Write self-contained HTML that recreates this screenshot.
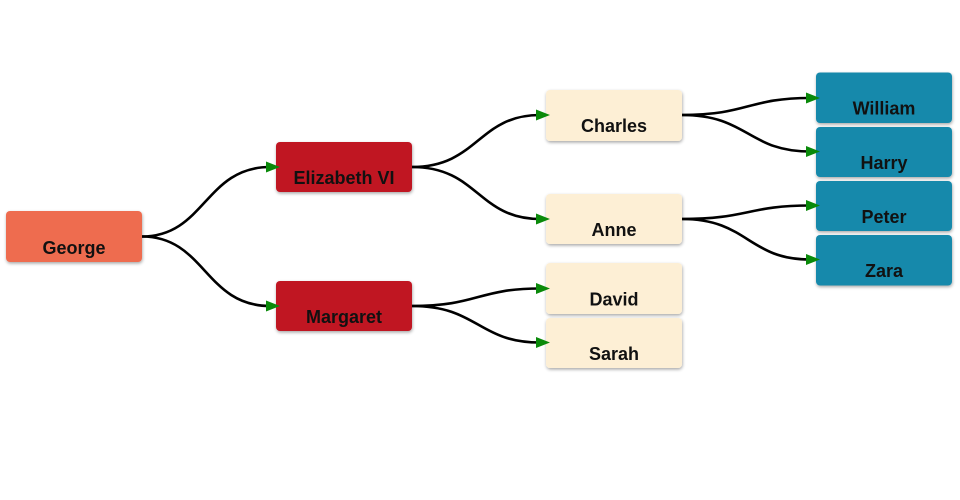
<!DOCTYPE html>
<html><head><meta charset="utf-8"><style>
html,body{margin:0;padding:0;background:#fff;width:960px;height:500px;overflow:hidden}
svg{display:block}
text{font-family:"Liberation Sans",sans-serif;font-weight:bold;font-size:18px;fill:#111;text-anchor:middle}
</style></head><body>
<svg width="960" height="500" viewBox="0 0 960 500" xmlns="http://www.w3.org/2000/svg">
<defs>
<filter id="sh" x="-10%" y="-20%" width="120%" height="150%">
<feGaussianBlur in="SourceAlpha" stdDeviation="1.5"/>
<feOffset dx="0.5" dy="1.5" result="b"/>
<feComponentTransfer><feFuncA type="linear" slope="0.35"/></feComponentTransfer>
<feMerge><feMergeNode/><feMergeNode in="SourceGraphic"/></feMerge>
</filter>
</defs>
<g fill="none" stroke="#000" stroke-width="2.6">
<path d="M142 236.5 C205 236.5 205 167 270 167"/>
<path d="M142 236.5 C205 236.5 205 306 270 306"/>
<path d="M412 167 C478 167 478 115 540 115"/>
<path d="M412 167 C478 167 478 219 540 219"/>
<path d="M412 306 C478 306 478 288.5 540 288.5"/>
<path d="M412 306 C478 306 478 342.5 540 342.5"/>
<path d="M682 115 C748 115 748 98 810 98"/>
<path d="M682 115 C748 115 748 151.5 810 151.5"/>
<path d="M682 219 C748 219 748 205.5 810 205.5"/>
<path d="M682 219 C748 219 748 259.5 810 259.5"/>
</g>
<g filter="url(#sh)">
<rect x="6" y="211" width="136" height="51" rx="4" fill="#EE6C4F"/>
<rect x="276" y="142" width="136" height="50" rx="4" fill="#C01420"/>
<rect x="276" y="281" width="136" height="50" rx="4" fill="#C01420"/>
<rect x="546" y="90" width="136" height="51" rx="4" fill="#FDEFD5"/>
<rect x="546" y="194" width="136" height="50" rx="4" fill="#FDEFD5"/>
<rect x="546" y="263" width="136" height="51" rx="4" fill="#FDEFD5"/>
<rect x="546" y="318" width="136" height="50" rx="4" fill="#FDEFD5"/>
<rect x="816" y="72.5" width="136" height="50.5" rx="4" fill="#1789AB"/>
<rect x="816" y="127" width="136" height="50" rx="4" fill="#1789AB"/>
<rect x="816" y="181" width="136" height="50" rx="4" fill="#1789AB"/>
<rect x="816" y="235" width="136" height="50.5" rx="4" fill="#1789AB"/>
</g>
<g fill="#0A8A0A">
<polygon points="266,161.5 280,167 266,172.5"/>
<polygon points="266,300.5 280,306 266,311.5"/>
<polygon points="536,109.5 550,115 536,120.5"/>
<polygon points="536,213.5 550,219 536,224.5"/>
<polygon points="536,283 550,288.5 536,294"/>
<polygon points="536,337 550,342.5 536,348"/>
<polygon points="806,92.5 820,98 806,103.5"/>
<polygon points="806,146 820,151.5 806,157"/>
<polygon points="806,200 820,205.5 806,211"/>
<polygon points="806,254 820,259.5 806,265"/>
</g>
<text x="74" y="254">George</text>
<text x="344" y="184">Elizabeth VI</text>
<text x="344" y="323">Margaret</text>
<text x="614" y="132">Charles</text>
<text x="614" y="236">Anne</text>
<text x="614" y="305.5">David</text>
<text x="614" y="360">Sarah</text>
<text x="884" y="114.5">William</text>
<text x="884" y="169">Harry</text>
<text x="884" y="223">Peter</text>
<text x="884" y="277">Zara</text>
</svg>
</body></html>
